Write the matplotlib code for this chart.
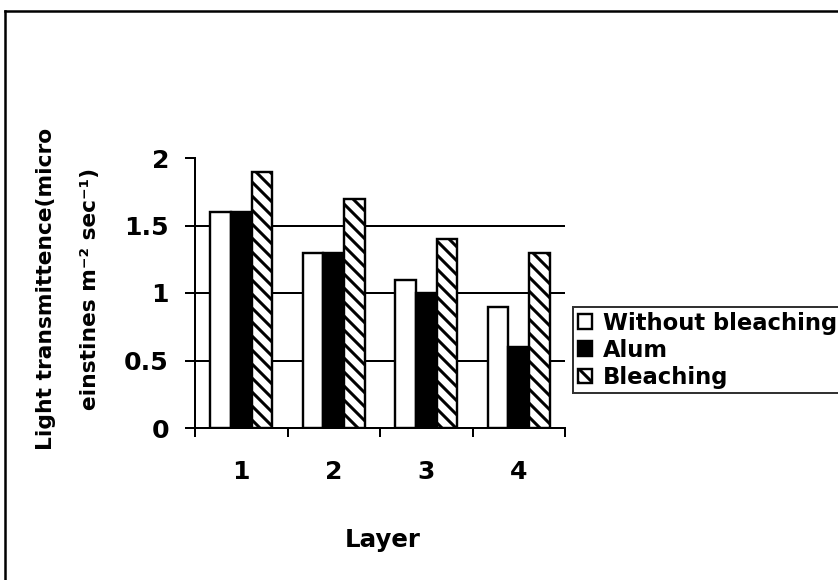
import matplotlib
matplotlib.use("Agg")
import matplotlib.pyplot as plt
from matplotlib.lines import Line2D
import numpy as np

# ---- data ----
layers = ["1", "2", "3", "4"]
without_bleaching = [1.6, 1.3, 1.1, 0.9]
alum = [1.6, 1.3, 1.0, 0.6]
bleaching = [1.9, 1.7, 1.4, 1.3]
series_names = ["Without bleaching", "Alum", "Bleaching"]
y_ticks = [0, 0.5, 1, 1.5, 2]
y_tick_labels = ["0", "0.5", "1", "1.5", "2"]
grid_levels = [0.5, 1, 1.5]

DPI = 84
W, H = 839, 580
plt.rcParams["font.family"] = ["DejaVu Sans"]
plt.rcParams["font.weight"] = "bold"
plt.rcParams["hatch.linewidth"] = 2.6
plt.rcParams["hatch.color"] = "black"

def px(v):
    return v * 72.0 / DPI

fig = plt.figure(figsize=(W / DPI, H / DPI), dpi=DPI)
fig.patch.set_facecolor("white")

# outer frame (only left and top edges visible in the picture)
fx, fy = 5 / W, 1 - 11 / H
fig.add_artist(Line2D([fx, fx], [0, fy], transform=fig.transFigure,
                      color="black", linewidth=px(2.5), solid_capstyle="projecting"))
fig.add_artist(Line2D([fx, 1], [fy, fy], transform=fig.transFigure,
                      color="black", linewidth=px(2.5), solid_capstyle="projecting"))

left, right, top, bottom = 195, 565, 158, 428
ax = fig.add_axes([left / W, 1 - bottom / H, (right - left) / W, (bottom - top) / H])

n = len(layers)
x = np.arange(n) + 0.5
bw = 1.0 / 4.5

ax.hlines(grid_levels, 0, n, colors="black", linewidth=px(2), zorder=0)

kw = dict(edgecolor="black", linewidth=px(2.4), zorder=2)
b1 = ax.bar(x - bw, without_bleaching, bw, facecolor="white", label=series_names[0], **kw)
b2 = ax.bar(x, alum, bw, facecolor="black", label=series_names[1], **kw)
b3 = ax.bar(x + bw, bleaching, bw, facecolor="white", hatch="\\\\", label=series_names[2], **kw)

ax.set_xlim(0, n)
ax.set_ylim(0, 2)

for s in ["top", "right"]:
    ax.spines[s].set_visible(False)
for s in ["left", "bottom"]:
    ax.spines[s].set_linewidth(px(2))
    ax.spines[s].set_color("black")

ax.set_yticks(y_ticks)
ax.set_yticklabels(y_tick_labels)
ax.tick_params(axis="y", direction="out", length=px(10), width=px(2),
               labelsize=21.5, pad=px(16))

# x: boundary ticks (major), centred labels (minor)
ax.set_xticks(np.arange(n + 1))
ax.set_xticklabels([])
ax.tick_params(axis="x", which="major", direction="out", length=px(9), width=px(2))
ax.set_xticks(x, minor=True)
ax.set_xticklabels(layers, minor=True)
ax.tick_params(axis="x", which="minor", length=0, labelsize=21.5, pad=px(32))

ax.set_xlabel("Layer", fontsize=21, fontweight="bold")
ax.xaxis.set_label_coords(((383 - left) / (right - left)), (bottom - 547) / (bottom - top))
ax.xaxis.label.set_va("baseline")

# y label, two lines
fig.text(52 / W, 1 - 289 / H, "Light transmittence(micro", rotation=90,
         rotation_mode="anchor", ha="center", va="baseline", fontsize=18.6,
         fontweight="bold")
fig.text(96 / W, 1 - 289 / H, "einstines m\u207b\u00b2 sec\u207b\u00b9)", rotation=90,
         rotation_mode="anchor", ha="center", va="baseline", fontsize=18.6,
         fontweight="bold")

leg = fig.legend(handles=[b1, b2, b3], labels=series_names, loc="upper left",
                 bbox_to_anchor=(573 / W, 1 - 307 / H), bbox_transform=fig.transFigure,
                 fontsize=19.4, frameon=True, fancybox=False, shadow=False,
                 borderaxespad=0, borderpad=0.2, handlelength=0.62, handleheight=0.6,
                 handletextpad=0.5, labelspacing=0.18)
leg.get_frame().set_edgecolor("black")
leg.get_frame().set_linewidth(px(2))
for t in leg.get_texts():
    t.set_fontweight("bold")

fig.savefig("out.png", dpi=DPI)
